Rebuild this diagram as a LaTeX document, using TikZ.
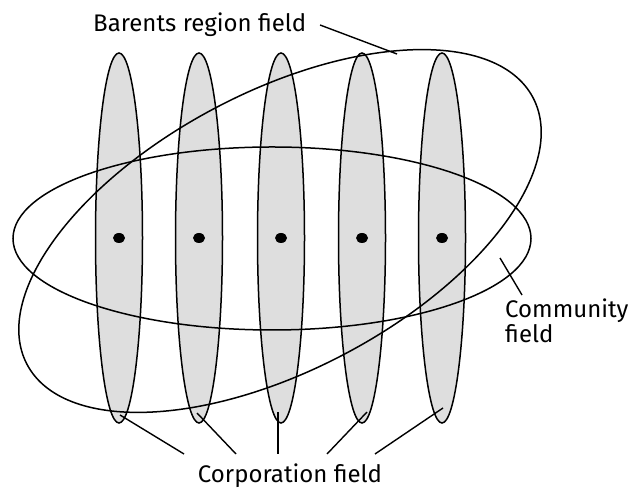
\documentclass[tikz,border=0pt]{standalone}
\usepackage{fontspec}
\setmainfont{Fira Sans}
\usetikzlibrary{shapes.geometric}
\begin{document}
\begin{tikzpicture}[x=1pt,y=1pt,
  outline/.style={draw=black,line width=1.5pt},
  corp/.style={ellipse,fill=black!13,draw=black,line width=1.5pt,minimum width=47pt,minimum height=370pt,inner sep=0pt},
  dot/.style={ellipse,fill=black,minimum width=12pt,minimum height=10pt,inner sep=0pt},
  lead/.style={draw=black,line width=1.4pt},
  lbl/.style={font=\fontsize{24}{25}\selectfont,inner sep=0pt}]
\useasboundingbox (0,0) rectangle (631,489);
\fill[white] (0,0) rectangle (631,489);
% corporation fields
\foreach \n/\x in {c1/119,c2/199,c3/281,c4/362,c5/442}{
  \node[corp] (\n) at (\x,251) {};
  \node[dot] (d\n) at (\x,251) {};
}
% community field
\draw[outline] (272,250.5) ellipse [x radius=259, y radius=91.5];
% Barents region field
\draw[outline,rotate around={27.8:(280,258)}] (280,258) ellipse [x radius=286, y radius=139];
% labels
\node[lbl,anchor=base west] (bar) at (93,457) {Barents region field};
\node[lbl,anchor=base west] (com1) at (505,171) {Community};
\node[lbl,anchor=base west] (com2) at (505,146) {field};
\node[lbl,anchor=base] (cor) at (290,6) {Corporation field};
% leader ends
\coordinate (b1) at (320,464);
\coordinate (b2) at (397,435);
\coordinate (m1) at (500,231);
\coordinate (m2) at (522,194);
\coordinate (e1) at (120,74);
\coordinate (e2) at (197,76);
\coordinate (e3) at (278,77);
\coordinate (e4) at (367,77);
\coordinate (e5) at (443,81);
\coordinate (f1) at (184,35);
\coordinate (f2) at (236,35);
\coordinate (f3) at (278,35);
\coordinate (f4) at (327,35);
\coordinate (f5) at (375,35);
\draw[lead] (b1) -- (b2);
\draw[lead] (m1) -- (m2);
\foreach \i in {1,...,5}{\draw[lead] (e\i) -- (f\i);}
\end{tikzpicture}
\end{document}
